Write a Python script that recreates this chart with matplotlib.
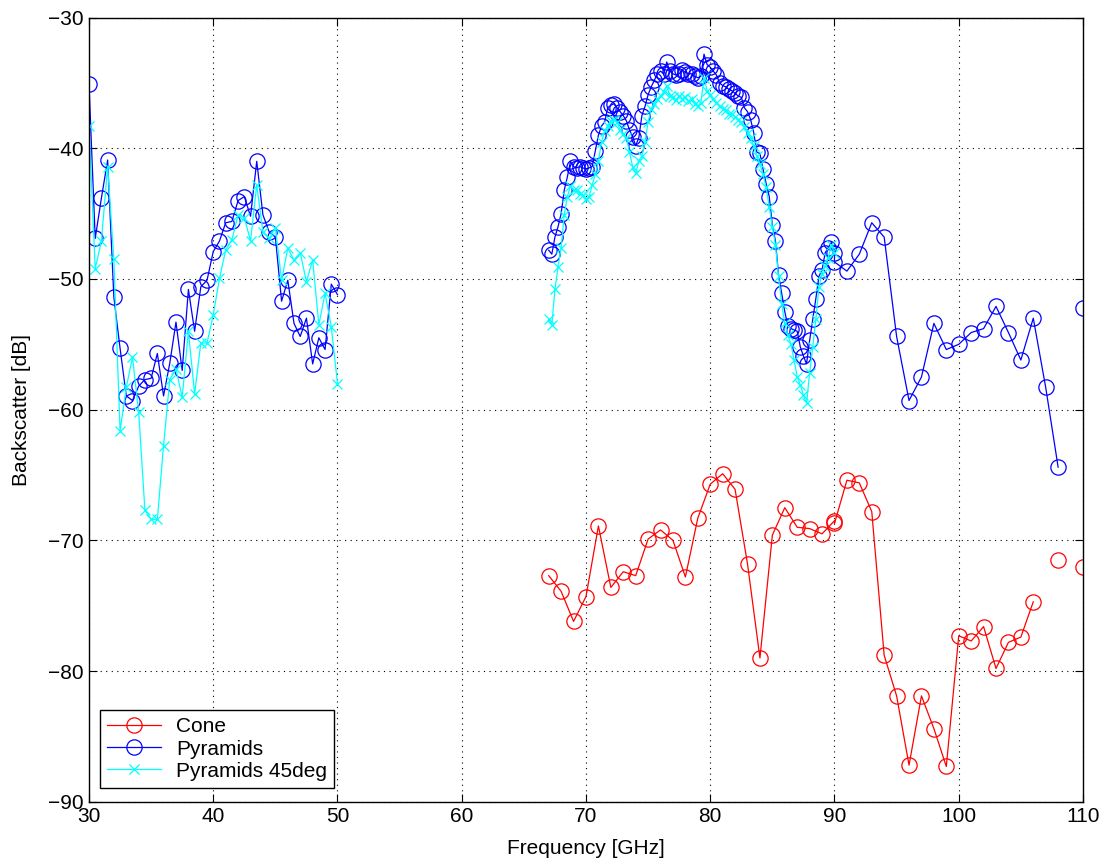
import numpy as np
import matplotlib
matplotlib.use("Agg")
import matplotlib.pyplot as plt

plt.rcParams['font.family'] = ['Liberation Sans', 'DejaVu Sans']

nan = np.nan

# band 1: 30-50 GHz, 0.5 GHz step
f_low = np.arange(30, 50.01, 0.5)
pyr_low = [-35.1, -46.9, -43.8, -40.9, -51.4, -55.3, -58.95, -59.3, -58.2, -57.7,
           -57.6, -55.7, -58.95, -56.45, -53.3, -57.0, -50.8, -54.0, -50.6, -50.1,
           -47.9, -47.1, -45.7, -45.6, -44.0, -43.7, -45.2, -41.0, -45.1, -46.4,
           -46.8, -51.7, -50.1, -53.4, -54.4, -53.0, -56.5, -54.5, -55.4, -50.4,
           -51.2]
p45_low = [-38.3, -49.2, -47.1, -41.4, -48.5, -61.6, -58.3, -56.0, -60.2, -67.7,
           -68.4, -68.4, -62.75, -57.7, -56.9, -59.05, -54.0, -58.8, -54.9, -54.9,
           -52.75, -49.95, -47.8, -47.0, -45.1, -45.3, -47.1, -42.8, -46.4, -46.9,
           -46.1, -50.1, -47.65, -48.55, -48.0, -50.2, -48.55, -53.5, -51.1, -53.65,
           -58.0]

# band 2: 67-90 GHz, 0.25 GHz step
f_mid = np.arange(67, 90.001, 0.25)
pyr_mid = [-47.8, -48.1, -46.8, -46.0, -45.0, -43.2, -42.2, -41.0, -41.4, -41.5,
           -41.4, -41.5, -41.6, -41.5, -41.4, -40.2, -39.0, -38.3, -38.0, -36.9,
           -36.7, -36.6, -36.9, -37.2, -37.5, -37.9, -38.6, -39.1, -39.8, -39.2,
           -37.5, -36.8, -35.9, -35.3, -34.8, -34.3, -34.1, -34.3, -33.4, -34.1,
           -34.3, -34.4, -34.3, -34.0, -34.2, -34.3, -34.3, -34.5, -34.6, -34.5,
           -32.8, -33.6, -33.8, -34.1, -34.4, -35.0, -35.2, -35.3, -35.5, -35.6,
           -35.8, -36.0, -36.1, -36.9, -37.2, -37.8, -38.8, -40.3, -40.4, -41.6,
           -42.7, -43.7, -45.9, -47.1, -49.7, -51.1, -52.5, -53.6, -53.8, -53.9,
           -54.0, -55.2, -55.9, -56.5, -54.7, -53.1, -51.5, -49.8, -49.3, -48.0,
           -47.6, -47.2, -48.0]
p45_mid = [-53.1, -53.5, -50.8, -49.1, -47.6, -45.1, -43.7, -42.9, -43.2, -43.2,
           -43.5, -43.6, -43.9, -43.7, -42.8, -42.0, -41.0, -39.5, -38.7, -38.3,
           -37.9, -37.8, -38.0, -38.6, -38.9, -39.2, -40.3, -41.4, -41.9, -41.0,
           -40.6, -39.5, -38.0, -37.0, -36.6, -36.2, -36.0, -35.7, -35.2, -36.0,
           -36.1, -36.3, -36.0, -36.2, -36.1, -36.4, -36.2, -36.6, -36.8, -36.5,
           -34.6, -35.6, -35.9, -36.2, -36.5, -36.8, -37.0, -37.1, -37.4, -37.4,
           -37.6, -37.8, -38.0, -38.4, -38.8, -39.2, -39.8, -40.6, -41.2, -42.0,
           -43.0, -44.5, -46.0, -47.4, -49.8, -51.9, -53.4, -54.3, -55.0, -56.2,
           -57.5, -58.1, -58.9, -59.5, -57.2, -55.2, -53.1, -50.6, -49.6, -49.0,
           -48.4, -47.4, -48.0]

# cone: 67-90 GHz, 1 GHz step
f_cone1 = np.arange(67, 90.01, 1.0)
cone1 = [-72.7, -73.9, -76.2, -74.3, -68.9, -73.6, -72.4, -72.7, -69.9, -69.2,
         -70.0, -72.8, -68.3, -65.7, -64.9, -66.1, -71.8, -79.0, -69.6, -67.5,
         -69.0, -69.1, -69.5, -68.5]

# band 3: 90-110 GHz, 1 GHz step
f_high = np.arange(90, 110.01, 1.0)
pyr_high = [-48.7, -49.4, -48.1, -45.7, -46.8, -54.4, -59.3, -57.5, -53.4, -55.4,
            -55.0, -54.1, -53.8, -52.1, -54.1, -56.2, -53.0, -58.3, -64.4, nan,
            -52.2]
cone_high = [-68.7, -65.4, -65.6, -67.8, -78.8, -81.9, -87.2, -81.9, -84.4, -87.3,
             -77.3, -77.7, -76.6, -79.8, -77.8, -77.4, -74.7, nan, -71.5, nan,
             -72.0]

f_cone = np.concatenate([f_cone1, f_high])
cone = np.concatenate([cone1, cone_high])
f_pyr = np.concatenate([f_low, [nan], f_mid, f_high])
pyr = np.concatenate([pyr_low, [nan], pyr_mid, pyr_high])
f_p45 = np.concatenate([f_low, [nan], f_mid])
p45 = np.concatenate([p45_low, [nan], p45_mid])

fig = plt.figure(figsize=(11.07, 8.61), dpi=100)
ax = fig.add_axes([0.0804, 0.0688, 0.8979, 0.9108])

ax.plot(f_cone, cone, '-o', color='red', lw=0.9, ms=11, mfc='none', mew=0.9, label='Cone')
ax.plot(f_pyr, pyr, '-o', color='blue', lw=0.9, ms=11, mfc='none', mew=0.9, label='Pyramids')
ax.plot(f_p45, p45, '-x', color='cyan', lw=0.9, ms=7, mew=0.9, label='Pyramids 45deg')

ax.set_xlim(30, 110)
ax.set_ylim(-90, -30)
ax.set_xticks(np.arange(30, 111, 10))
ax.set_yticks(np.arange(-90, -29, 10))
ax.grid(True, color='black', linestyle=(0, (1, 4)), linewidth=0.8)
ax.tick_params(direction='in', top=True, right=True, length=6, labelsize=15)
ax.tick_params(axis='x', pad=4)
ax.tick_params(axis='y', pad=4)
for s in ax.spines.values():
    s.set_linewidth(1.0)

ax.set_xlabel('Frequency [GHz]', fontsize=15, labelpad=9)
ax.set_ylabel('Backscatter [dB]', fontsize=15, labelpad=12)

leg = ax.legend(loc='lower left', bbox_to_anchor=(0.011, 0.0176), fontsize=15,
                fancybox=False, framealpha=1, edgecolor='black',
                borderaxespad=0, handlelength=2.6, labelspacing=0.15,
                borderpad=0.35, handletextpad=0.7)
leg.get_frame().set_linewidth(1.0)

fig.savefig('out.png', dpi=100)
